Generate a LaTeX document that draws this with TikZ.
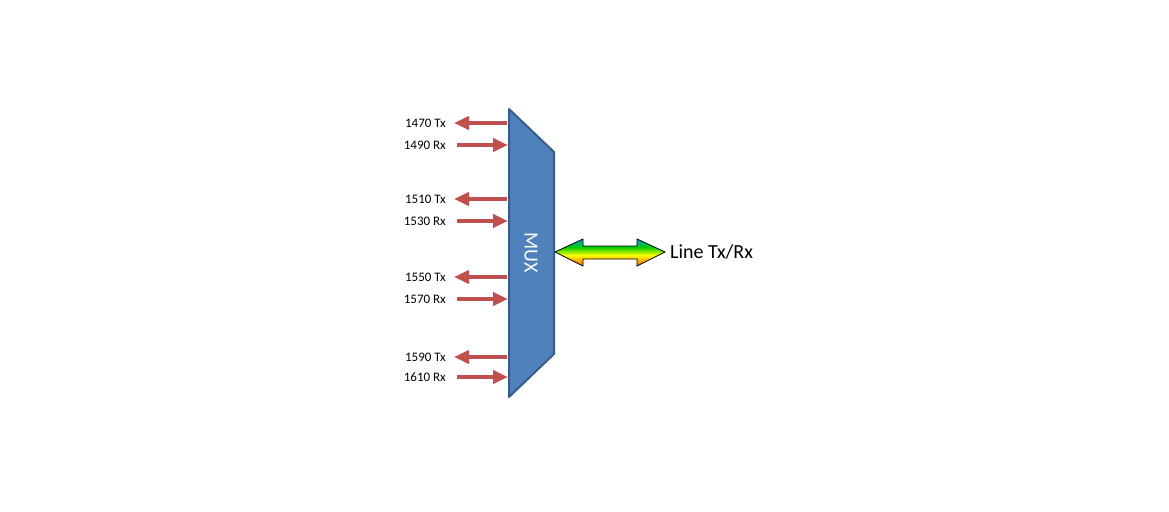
\documentclass[tikz,border=0pt]{standalone}
\usepackage{fontspec}
\setmainfont{Carlito}
\usetikzlibrary{arrows.meta}
\definecolor{muxblue}{RGB}{79,129,189}
\definecolor{muxedge}{RGB}{56,93,138}
\definecolor{redarr}{RGB}{192,80,77}
\pgfdeclareverticalshading{rainbow}{100bp}{color(0bp)=(magenta);color(12bp)=(red);color(30bp)=(orange);color(45bp)=(yellow);color(60bp)=(green!80!black);color(78bp)=(cyan!60!blue);color(100bp)=(blue)}
\tikzset{
  sig/.style={draw=redarr, line width=4pt, -{Triangle[length=15pt,width=13pt]}},
  lbl/.style={anchor=east, font=\fontsize{13}{15}\selectfont, inner sep=0pt}
}
\begin{document}
\begin{tikzpicture}[x=1pt,y=-1pt]
\useasboundingbox (0,0) rectangle (1169,511);
\draw[fill=muxblue, draw=muxedge, line width=2pt, line join=round]
  (509,109) -- (554,152) -- (554,354) -- (509,397) -- cycle;
\node[rotate=-90, text=white, font=\fontsize{20}{22}\selectfont] (mux) at (531,253) {MUX};
\coordinate (L) at (508,0);
\foreach \y/\t/\d in {123/1470 Tx/0,145/1490 Rx/1,199/1510 Tx/0,221/1530 Rx/1,277/1550 Tx/0,299/1570 Rx/1,357/1590 Tx/0,377/1610 Rx/1}{
  \node[lbl] (t\y) at (446,\y) {\t};
  \ifnum\d=0
    \coordinate (a\y) at (507,\y); \coordinate (b\y) at (454,\y);
  \else
    \coordinate (a\y) at (457,\y); \coordinate (b\y) at (508,\y);
  \fi
  \draw[sig] (a\y) -- (b\y);
}
\path[shading=rainbow, draw=black, line width=0.8pt, line join=miter]
  (555,252) -- (583,239) -- (583,246) -- (637,246) -- (637,239) -- (665,252)
  -- (637,266) -- (637,259) -- (583,259) -- (583,266) -- cycle;
\node[anchor=west, font=\fontsize{20}{22}\selectfont, inner sep=0pt] (line) at (670,252) {Line Tx/Rx};
\end{tikzpicture}
\end{document}
